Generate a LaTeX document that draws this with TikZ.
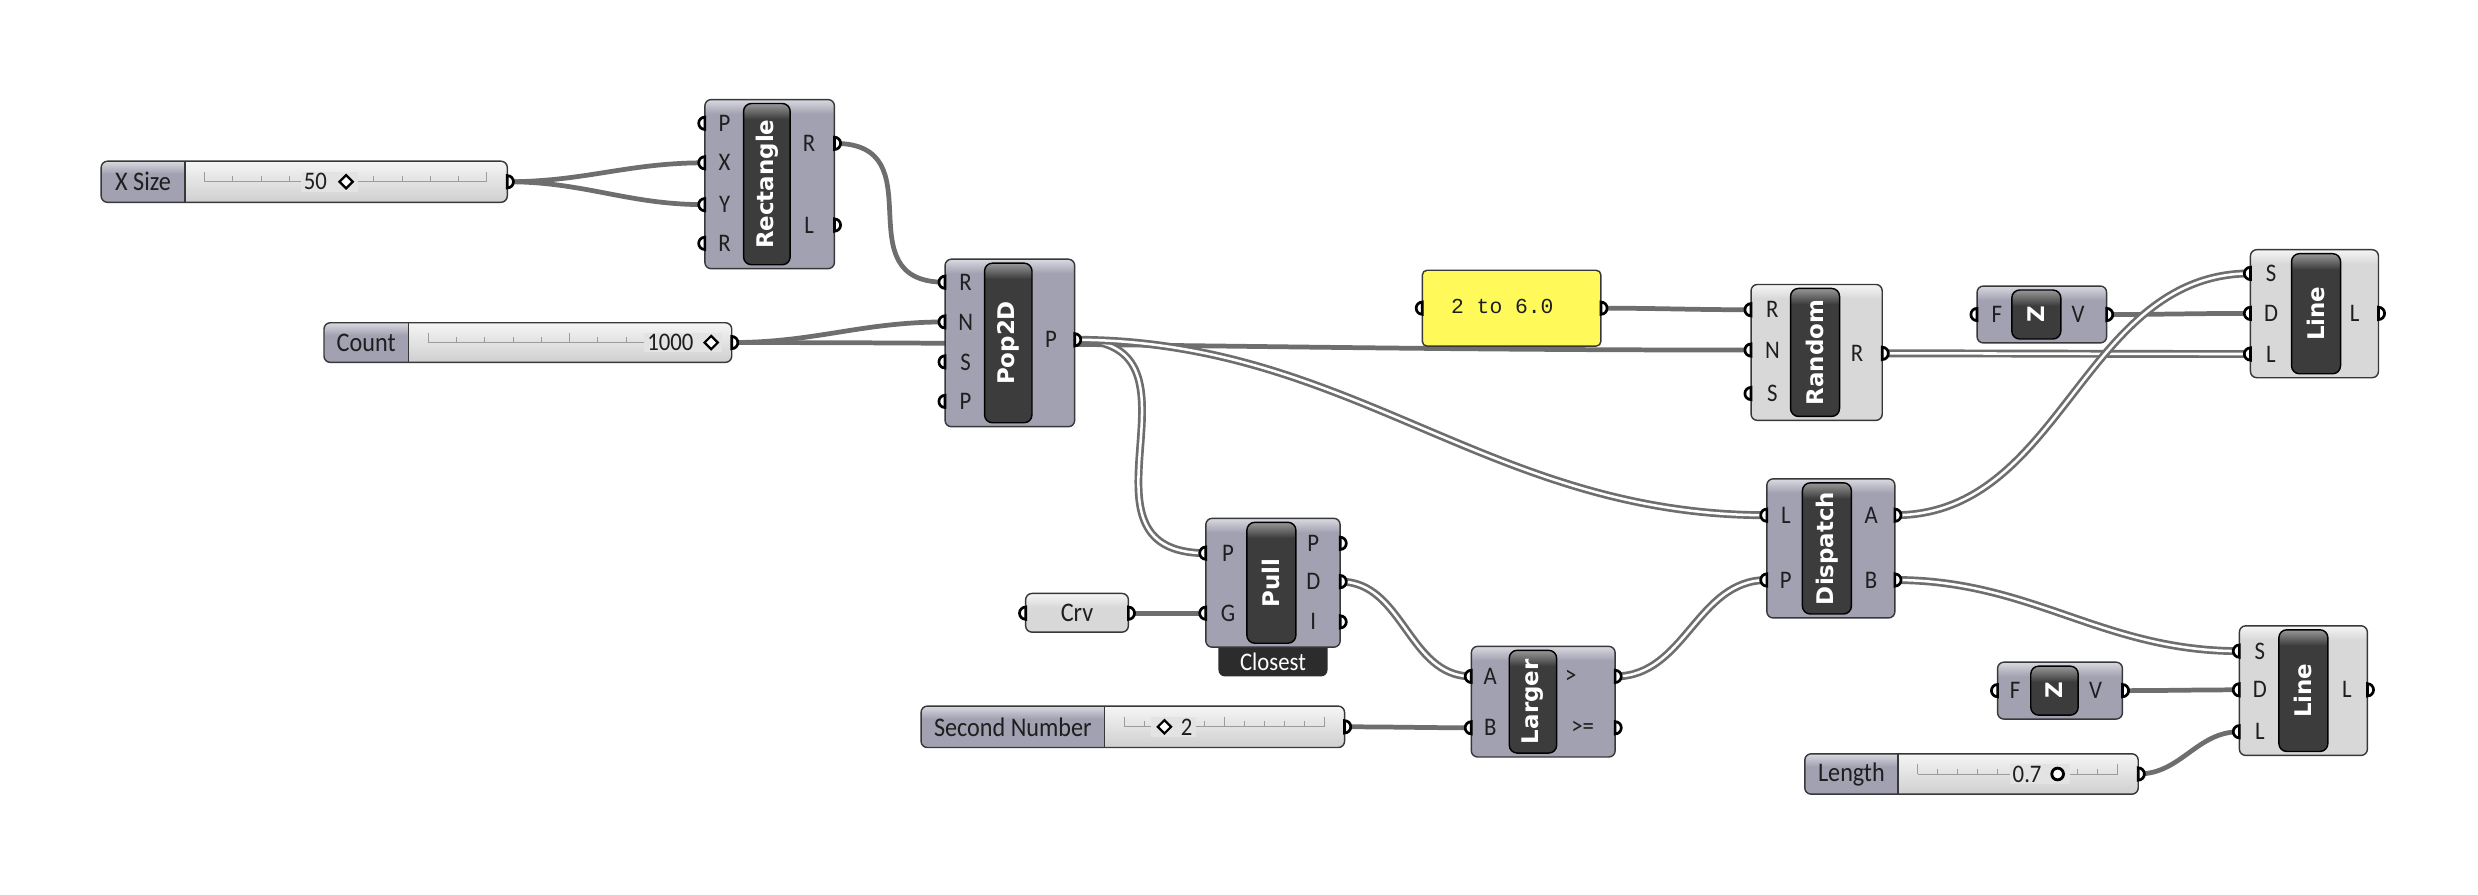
\documentclass[tikz,border=0pt]{standalone}
\usepackage{fontspec}
\setmainfont{Carlito}[FakeStretch=0.9]
\newfontfamily\ghtitlefont{DejaVu Sans}
\newfontfamily\ghmonofont{Liberation Mono}
\usetikzlibrary{shapes.geometric,backgrounds}
\definecolor{bodyD}{HTML}{A1A1B1}
\definecolor{bodyDtop}{HTML}{D9D9E1}
\definecolor{bodyL}{HTML}{D8D8D8}
\definecolor{bodyLtop}{HTML}{F5F5F5}
\definecolor{capD}{HTML}{3C3C3C}
\definecolor{capT}{HTML}{979797}
\definecolor{valT}{HTML}{F5F5F5}
\definecolor{valD}{HTML}{CFCFCF}
\definecolor{valM}{HTML}{E3E3E3}
\definecolor{wirec}{HTML}{6E6E6E}
\definecolor{panelc}{HTML}{FFFA5A}
\definecolor{edgec}{HTML}{383838}
\definecolor{labelc}{HTML}{1E1E1E}
\definecolor{trackc}{HTML}{9C9C9C}
\definecolor{badgec}{HTML}{2C2C2C}
\tikzset{
WIRE/.style={draw=wirec, line width=3},
LISTWIRE/.style={draw=wirec, line width=5, postaction={draw=white, line width=1.6}},
OUTLINE/.style={draw=edgec, line width=0.9},
PORT/.style={draw=black, fill=white, line width=1.7},
TRACK/.style={draw=trackc, line width=0.6},
TITLE/.style={font=\ghtitlefont\bfseries\fontsize{14.5}{14.5}\selectfont, text=white, rotate=90, inner sep=0},
PLABEL/.style={font=\fontsize{16}{16}\selectfont, text=labelc, inner sep=0},
SLABEL/.style={font=\fontsize{17}{17}\selectfont, text=labelc, inner sep=0},
BLABEL/.style={font=\fontsize{16}{16}\selectfont, text=white, inner sep=0},
SVAL/.style={font=\fontsize{16}{16}\selectfont, text=labelc, fill=valM, inner xsep=2, inner ysep=1},
PTEXT/.style={font=\ghmonofont\fontsize{13.5}{13.5}\selectfont, text=labelc, inner sep=0},
DMARK/.style={diamond, draw=black, fill=white, line width=1.4, minimum width=9, minimum height=9, inner sep=0},
CMARK/.style={circle, draw=black, fill=white, line width=1.8, minimum size=7.4, inner sep=0},
}
% body of a component: x1 y1 x2 y2 fill top
\newcommand{\ghbox}[6]{%
  \begin{scope}
    \clip[rounded corners=4] (#1,#2) rectangle (#3,#4);
    \fill[#5] (#1,#2) rectangle (#3,#4);
    \shade[top color=#6, bottom color=#5] (#1,#2) rectangle (#3,#2+9);
  \end{scope}
  \draw[OUTLINE, rounded corners=4] (#1,#2) rectangle (#3,#4);
}
% dark name capsule
\newcommand{\ghcapsule}[4]{%
  \begin{scope}
    \clip[rounded corners=5] (#1,#2) rectangle (#3,#4);
    \fill[capD] (#1,#2) rectangle (#3,#4);
    \shade[top color=capT, bottom color=capD] (#1,#2) rectangle (#3,#2+10);
  \end{scope}
  \draw[black, line width=0.9, rounded corners=5] (#1,#2) rectangle (#3,#4);
}
% id x1 y1 x2 y2 capsule-x1 capsule-x2 title D/L
\newcommand{\ghcomp}[9]{%
  \ghbox{#2}{#3}{#4}{#5}{body#9}{body#9top}
  \ghcapsule{#6}{#3+2.5}{#7}{#5-2.5}
  \node[TITLE] (#1) at ({(#6+#7)/2},{(#3+#5)/2}) {#8};
}
\newcommand{\ghpin}[3]{%
  \coordinate (#1) at (#2,#3);
  \filldraw[PORT] (#1) ++(0,3.9) arc[start angle=90,end angle=270,radius=3.9] -- cycle;
}
\newcommand{\ghpout}[3]{%
  \coordinate (#1) at (#2,#3);
  \filldraw[PORT] (#1) ++(0,3.9) arc[start angle=90,end angle=-90,radius=3.9] -- cycle;
}
\newcommand{\ghin}[5]{\ghpin{#1}{#2}{#3}\node[PLABEL] (#1-lab) at (#4,#3) {#5};}
\newcommand{\ghout}[5]{\ghpout{#1}{#2}{#3}\node[PLABEL] (#1-lab) at (#4,#3) {#5};}
% id x1 y1 x2 y2 divider label
\newcommand{\ghslider}[7]{%
  \begin{scope}
    \clip[rounded corners=4] (#2,#3) rectangle (#4,#5);
    \shade[top color=valT, bottom color=valD] (#6,#3) rectangle (#4,#5);
    \fill[bodyD] (#2,#3) rectangle (#6,#5);
    \shade[top color=bodyDtop, bottom color=bodyD] (#2,#3) rectangle (#6,#3+8);
  \end{scope}
  \draw[OUTLINE] (#6,#3) -- (#6,#5);
  \draw[OUTLINE, rounded corners=4] (#2,#3) rectangle (#4,#5);
  \node[SLABEL] (#1) at ({(#2+#6)/2},{(#3+#5)/2}) {#7};
  \pgfmathsetmacro\trY{(#3+#5)/2}
  \pgfmathsetmacro\trA{#6+12.5}
  \pgfmathsetmacro\trB{#4-13}
  \draw[TRACK] (\trA,\trY) -- (\trB,\trY);
  \foreach \k in {0,...,10} {
    \pgfmathsetmacro\trX{\trA+\k*(\trB-\trA)/10}
    \pgfmathsetmacro\trH{ifthenelse(mod(\k,5)==0,6.3,3.4)}
    \draw[TRACK] (\trX,\trY) -- (\trX,\trY-\trH);
  }
  \ghpout{#1-out}{#4}{\trY}
}

\begin{document}
\begin{tikzpicture}[x=1pt,y=-1pt] %point population
  \useasboundingbox (0,0) rectangle (1568,566);

  % sliders
  \ghslider{xsize}{64}{102}{321}{128}{117}{X Size}
  \node[SVAL, anchor=east] (xsize-val) at (227,115) {50\kern18pt};
  \node[DMARK] (xsize-mark) at (219,115) {};
  \ghslider{count}{205}{204.2}{463}{229.3}{258.4}{Count}
  \node[SVAL, anchor=east] (count-val) at (457,216.75) {1000\kern16pt};
  \node[DMARK] (count-mark) at (450,216.75) {};
  \ghslider{second}{582.8}{446.8}{850.8}{473}{699}{Second Number}
  \node[SVAL, anchor=west] (second-val) at (728,459.9) {\kern17pt2};
  \node[DMARK] (second-mark) at (736.8,459.9) {};
  \ghslider{length}{1142}{477}{1353}{502.5}{1201}{Length}
  \node[SVAL, anchor=east] (length-val) at (1310,489.75) {0.7\kern16pt};
  \node[CMARK] (length-mark) at (1302,489.75) {};

  % Rectangle
  \ghcomp{rect}{446}{63}{528}{170}{470.5}{500}{Rectangle}{D}
  \ghin{rect-P}{446}{78}{458.5}{P}
  \ghin{rect-X}{446}{103}{458.5}{X}
  \ghin{rect-Y}{446}{129.5}{458.5}{Y}
  \ghin{rect-R}{446}{154}{458.5}{R}
  \ghout{rect-oR}{528}{90.7}{512}{R}
  \ghout{rect-oL}{528}{142.4}{512}{L}

  % Pop2D
  \ghcomp{pop}{598}{164}{680}{270}{623}{653}{Pop2D}{D}
  \ghin{pop-R}{598}{178.6}{611}{R}
  \ghin{pop-N}{598}{203.7}{611}{N}
  \ghin{pop-S}{598}{229}{611}{S}
  \ghin{pop-P}{598}{254}{611}{P}
  \ghout{pop-oP}{680}{215}{665}{P}

  % panel
  \begin{scope}
    \fill[panelc, rounded corners=3] (900,171) rectangle (1013,219);
    \draw[OUTLINE, rounded corners=3] (900,171) rectangle (1013,219);
  \end{scope}
  \node[PTEXT, anchor=west] (panel) at (918,194) {2 to 6.0};
  \ghpin{panel-in}{900}{195}
  \ghpout{panel-out}{1013}{195}

  % Random
  \ghcomp{rnd}{1108}{180}{1191}{266}{1133}{1164}{Random}{L}
  \ghin{rnd-R}{1108}{196}{1121.5}{R}
  \ghin{rnd-N}{1108}{221.5}{1121.5}{N}
  \ghin{rnd-S}{1108}{249}{1121.5}{S}
  \ghout{rnd-oR}{1191}{223.6}{1175}{R}

  % unit Z, top
  \ghcomp{zA}{1251}{181}{1333}{217}{1273}{1304}{Z}{D}
  \ghin{zA-F}{1251}{199}{1263.5}{F}
  \ghout{zA-oV}{1333}{199}{1315}{V}

  % Line, top
  \ghcomp{lnA}{1424}{158}{1505}{239}{1450}{1481}{Line}{L}
  \ghin{lnA-S}{1424}{173}{1437}{S}
  \ghin{lnA-D}{1424}{198.3}{1437}{D}
  \ghin{lnA-L}{1424}{224}{1437}{L}
  \ghout{lnA-oL}{1505}{198.3}{1490}{L}

  % Dispatch
  \ghcomp{disp}{1118}{303}{1199}{391}{1140.5}{1171.5}{Dispatch}{D}
  \ghin{disp-L}{1118}{326}{1130}{L}
  \ghin{disp-P}{1118}{367}{1130}{P}
  \ghout{disp-oA}{1199}{326}{1184}{A}
  \ghout{disp-oB}{1199}{367}{1184}{B}

  % Curve param
  \ghbox{649}{375.5}{714}{400}{bodyL}{bodyLtop}
  \node[SLABEL] (crv) at (681.5,388) {Crv};
  \ghpin{crv-in}{649}{388}
  \ghpout{crv-out}{714}{388}

  % Pull with Closest badge
  \fill[badgec, rounded corners=4] (771,398) rectangle (840,428);
  \node[BLABEL] (pull-mode) at (805.5,419) {Closest};
  \ghcomp{pull}{763}{328}{848}{409.5}{789}{820}{Pull}{D}
  \ghin{pull-P}{763}{350}{777}{P}
  \ghin{pull-G}{763}{388}{777}{G}
  \ghout{pull-oP}{848}{343.8}{831}{P}
  \ghout{pull-oD}{848}{368}{831}{D}
  \ghout{pull-oI}{848}{393.5}{831}{I}

  % Larger
  \ghcomp{lrg}{931}{409}{1022}{479}{955}{985}{Larger}{D}
  \ghin{lrg-A}{931}{428}{943}{A}
  \ghin{lrg-B}{931}{460.5}{943}{B}
  \ghout{lrg-ogt}{1022}{428}{994}{>}
  \ghout{lrg-oge}{1022}{460.5}{1001.5}{>=}

  % unit Z, bottom
  \ghcomp{zB}{1264}{419}{1343}{455}{1285}{1315}{Z}{D}
  \ghin{zB-F}{1264}{437}{1275}{F}
  \ghout{zB-oV}{1343}{437}{1326}{V}

  % Line, bottom
  \ghcomp{lnB}{1417}{396}{1498}{478}{1442}{1473}{Line}{L}
  \ghin{lnB-S}{1417}{412}{1430}{S}
  \ghin{lnB-D}{1417}{436.5}{1430}{D}
  \ghin{lnB-L}{1417}{463}{1430}{L}
  \ghout{lnB-oL}{1498}{436.5}{1485}{L}

  % wires
  \begin{pgfonlayer}{background}
    \fill[white] (0,0) rectangle (1568,566);
    \path[WIRE] (xsize-out) to[out=0,in=180] (rect-X);
    \path[WIRE] (xsize-out) to[out=0,in=180] (rect-Y);
    \path[WIRE] (rect-oR) to[out=0,in=180,looseness=1.5] (pop-R);
    \path[WIRE] (count-out) to[out=0,in=180] (pop-N);
    \path[WIRE] (count-out) to[out=0,in=180] (rnd-N);
    \path[LISTWIRE] (pop-oP) to[out=0,in=180,looseness=1.5] (pull-P);
    \path[LISTWIRE] (pop-oP) to[out=0,in=180] (disp-L);
    \path[WIRE] (panel-out) to[out=0,in=180] (rnd-R);
    \path[LISTWIRE] (rnd-oR) to[out=0,in=180] (lnA-L);
    \path[WIRE] (zA-oV) to[out=0,in=180] (lnA-D);
    \path[LISTWIRE] (disp-oA) to[out=0,in=180] (lnA-S);
    \path[LISTWIRE] (disp-oB) to[out=0,in=180] (lnB-S);
    \path[WIRE] (zB-oV) to[out=0,in=180] (lnB-D);
    \path[WIRE] (length-out) to[out=0,in=180] (lnB-L);
    \path[WIRE] (crv-out) to[out=0,in=180] (pull-G);
    \path[LISTWIRE] (pull-oD) to[out=0,in=180] (lrg-A);
    \path[WIRE] (second-out) to[out=0,in=180] (lrg-B);
    \path[LISTWIRE] (lrg-ogt) to[out=0,in=180] (disp-P);
  \end{pgfonlayer}
\end{tikzpicture}
\end{document}
